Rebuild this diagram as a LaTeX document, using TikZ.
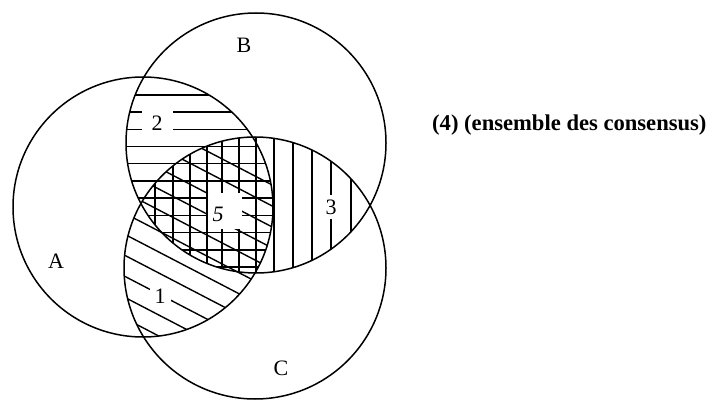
\documentclass[tikz,border=0pt]{standalone}
\usepackage{fontspec}
\setmainfont{Liberation Serif}
\begin{document}
\begin{tikzpicture}[x=1pt,y=-1pt,
  ring/.style={line width=1.5pt},
  hatch/.style={line width=1.4pt},
  lbl/.style={font=\fontsize{22}{26}\selectfont, inner sep=0pt},
  gap/.style={lbl, fill=white}]
\useasboundingbox (0,0) rectangle (718,401);
\coordinate (cA) at (143,207);
\coordinate (cB) at (256,143);
\coordinate (cC) at (255,268);
% A cap B : horizontal lines
\begin{scope}
  \clip (cA) circle [radius=130pt];
  \clip (cB) circle [radius=130pt];
  \foreach \y in {95,112.2,129.4,146.6,163.8,181,198.2,215.4,232.6,249.8,267}
    \draw[hatch] (100,\y) -- (300,\y);
\end{scope}
% B cap C : vertical lines
\begin{scope}
  \clip (cB) circle [radius=130pt];
  \clip (cC) circle [radius=131pt];
  \foreach \x in {155,173,190,207,222,239,256,274,293,312,331,351}
    \draw[hatch] (\x,120) -- (\x,300);
\end{scope}
% A cap C : diagonal lines
\begin{scope}
  \clip (cA) circle [radius=130pt];
  \clip (cC) circle [radius=131pt];
  \foreach \c in {362,341,320,299,278,257,236,215,194,173,152,131,110}
    \draw[hatch] (100,{\c-14.56}) -- (300,{\c+89.44});
\end{scope}
% circles
\draw[ring] (cA) circle [radius=130pt];
\draw[ring] (cB) circle [radius=130pt];
\draw[ring] (cC) circle [radius=131pt];
% labels
\node[lbl] (lA) at (56,261) {A};
\node[lbl] (lB) at (244,45) {B};
\node[lbl] (lC) at (281,368) {C};
\node[gap, inner xsep=10pt, inner ysep=7pt] (l2) at (157,123) {2};
\node[gap, inner xsep=5pt, inner ysep=3pt] (l1) at (160,296) {1};
\node[gap, inner xsep=2pt, inner ysep=5pt] (l3) at (331,207) {3};
\fill[white] (208,193) rectangle (242,229);
\node[gap, inner sep=1pt] (l5) at (218,214) {\itshape 5};
\node[lbl, anchor=west, font=\fontsize{22.6}{27}\selectfont\bfseries] (t4) at (432,125) {(4) (ensemble des consensus)};
\end{tikzpicture}
\end{document}
